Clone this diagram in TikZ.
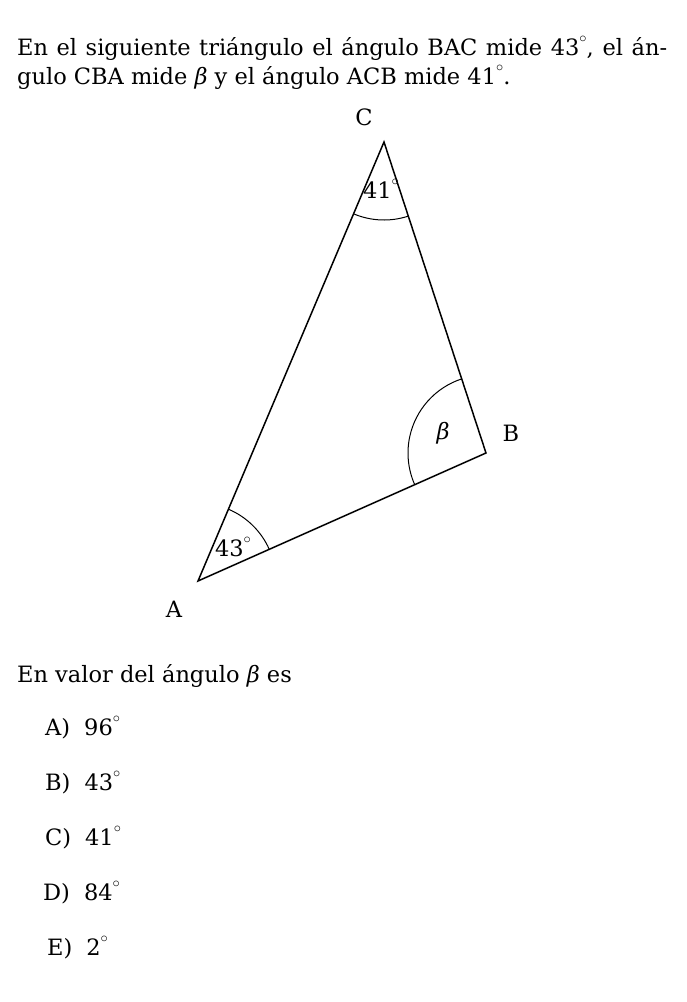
\documentclass[tikz,border=0pt]{standalone}
\usepackage{fontspec}
\setmainfont{DejaVu Serif}
\usetikzlibrary{angles}
\newcommand{\dg}{\smash{\raisebox{0.55em}{\fontsize{15}{15}\selectfont$\circ$}}}
\newcommand{\bt}{\textit{β}}
\tikzset{
  txt/.style={inner sep=0pt, anchor=base west, font=\fontsize{22.5}{28}\selectfont},
  lbl/.style={inner sep=0pt, font=\fontsize{22.5}{28}\selectfont},
  side/.style={line width=1.5pt, line join=miter},
  arcmark/.style={draw, line width=1pt, angle radius=78pt}
}
\begin{document}
\begin{tikzpicture}[x=1pt,y=-1pt]
\useasboundingbox[fill=white] (0,0) rectangle (687,1002);
\node[txt] (l1) at (17,55) {\hbox to 650pt{En el siguiente triángulo el ángulo BAC mide 43\dg, el án-}};
\node[txt] (l2) at (17,84) {gulo CBA mide \bt{} y el ángulo ACB mide 41\dg.};
\coordinate (A) at (198,581);
\coordinate (B) at (486,453);
\coordinate (C) at (384,142);
\draw[side] (A) -- (B) -- (C) -- cycle;
\pic[arcmark] {angle = B--A--C};
\pic[arcmark] {angle = C--B--A};
\pic[arcmark] {angle = A--C--B};
\node[lbl] (lc) at (364,117) {C};
\node[lbl] (lb) at (511,433) {B};
\node[lbl] (la) at (174,609) {A};
\node[lbl] (a41) at (381,190) {41\dg};
\node[lbl] (a43) at (233,548) {43\dg};
\node[lbl] (ab) at (443,433) {\bt};
\node[txt] (q) at (17,682) {En valor del ángulo \bt{} es};
\node[txt] (oa) at (45,735) {A)\hspace{14pt}96\dg};
\node[txt] (ob) at (45,790) {B)\hspace{14pt}43\dg};
\node[txt] (oc) at (45,845) {C)\hspace{14pt}41\dg};
\node[txt] (od) at (43,900) {D)\hspace{14pt}84\dg};
\node[txt] (oe) at (47,955) {E)\hspace{14pt}2\dg};
\end{tikzpicture}
\end{document}
